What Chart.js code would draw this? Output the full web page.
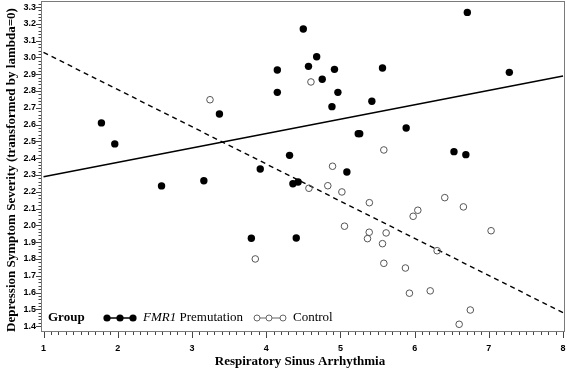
<!DOCTYPE html>
<html><head><meta charset="utf-8">
<script src="https://cdn.jsdelivr.net/npm/chart.js@4/dist/chart.umd.min.js"></script>
<style>html,body{margin:0;padding:0;background:#fff}#wrap{width:567px;height:371px}</style>
</head><body><div id="wrap"><canvas id="c" width="567" height="371"></canvas></div>
<script>
const premX = [1.78,1.96,2.59,3.16,3.37,3.80,3.92,4.15,4.15,4.315,4.36,4.43,4.405,4.50,4.57,4.68,4.755,4.886,4.92,4.966,5.087,5.24,5.26,5.424,5.567,5.886,6.53,6.69,6.71,7.276];
const premY = [2.61,2.485,2.235,2.266,2.663,1.923,2.336,2.925,2.792,2.417,2.248,2.258,1.925,3.169,2.947,3.004,2.870,2.707,2.929,2.792,2.318,2.546,2.546,2.739,2.937,2.580,2.439,2.421,3.268,2.911];
const ctrlX = [3.243,3.853,4.576,4.603,4.83,4.894,5.02,5.055,5.365,5.388,5.39,5.567,5.585,5.585,5.616,5.876,5.93,5.98,6.043,6.21,6.303,6.406,6.6,6.657,6.75,7.03];
const ctrlY = [2.748,1.80,2.221,2.854,2.236,2.352,2.199,1.995,1.921,1.959,2.135,1.891,2.449,1.774,1.955,1.746,1.596,2.054,2.09,1.61,1.849,2.165,1.411,2.11,1.496,1.968];
const premFitX = [1, 8], premFitY = [2.29, 2.89];
const ctrlFitX = [1, 8], ctrlFitY = [3.03, 1.48];
const xTicks = [1,2,3,4,5,6,7,8];
const yTicks = [1.4,1.5,1.6,1.7,1.8,1.9,2.0,2.1,2.2,2.3,2.4,2.5,2.6,2.7,2.8,2.9,3.0,3.1,3.2,3.3];
const xTitle = 'Respiratory Sinus Arrhythmia';
const yTitle = 'Depression Symptom Severity (transformed by lambda=0)';
const legendTitle = 'Group';
const groupNames = ['FMR1', 'Premutation', 'Control'];

const zip = (xs, ys) => xs.map((x, i) => ({x, y: ys[i]}));

const decor = {
  id: 'decor',
  beforeDatasetsDraw(chart) {
    const {ctx, chartArea: a, scales: {x, y}} = chart;
    ctx.save();
    ctx.strokeStyle = '#7a7a7a';
    ctx.lineWidth = 1;
    ctx.strokeRect(a.left + 0.5, a.top + 0.5, a.right - a.left - 1, a.bottom - a.top - 1);
    ctx.strokeStyle = '#444';
    for (let i = 10; i <= 80; i++) {
      const v = i / 10;
      const px = Math.round(x.getPixelForValue(v)) + 0.5;
      const len = (i % 10 === 0) ? 6 : 3;
      ctx.beginPath(); ctx.moveTo(px, a.bottom); ctx.lineTo(px, a.bottom + len); ctx.stroke();
    }
    for (let i = 70; i <= 166; i++) {
      const v = i / 50;
      const py = Math.round(y.getPixelForValue(v)) + 0.5;
      const len = (i % 5 === 0) ? 5 : 2.5;
      ctx.beginPath(); ctx.moveTo(a.left, py); ctx.lineTo(a.left - len, py); ctx.stroke();
    }
    ctx.restore();
  },
  afterDraw(chart) {
    const {ctx} = chart;
    ctx.save();
    ctx.fillStyle = '#000';
    ctx.font = 'bold 13px "Liberation Serif"';
    ctx.textAlign = 'center'; ctx.textBaseline = 'middle';
    ctx.fillText(xTitle, 300, 362);
    ctx.save();
    ctx.translate(12, 170); ctx.rotate(-Math.PI / 2);
    ctx.font = 'bold 13px "Liberation Serif"';
    ctx.fillText(yTitle, 0, 0, 332);
    ctx.restore();
    const ly = 318;
    ctx.textAlign = 'left';
    ctx.font = 'bold 13px "Liberation Serif"';
    ctx.fillText(legendTitle, 48, ly);
    ctx.strokeStyle = '#000'; ctx.lineWidth = 1.5;
    ctx.beginPath(); ctx.moveTo(107, ly); ctx.lineTo(133, ly); ctx.stroke();
    [107, 120, 133].forEach(cx => { ctx.beginPath(); ctx.arc(cx, ly, 3.6, 0, Math.PI * 2); ctx.fill(); });
    ctx.font = 'italic 13px "Liberation Serif"';
    ctx.fillText(groupNames[0], 143, ly);
    const w = ctx.measureText(groupNames[0] + ' ').width;
    ctx.font = '13px "Liberation Serif"';
    ctx.fillText(groupNames[1], 143 + w, ly);
    ctx.strokeStyle = '#666'; ctx.lineWidth = 1;
    ctx.beginPath(); ctx.moveTo(257, ly); ctx.lineTo(283, ly); ctx.stroke();
    [257, 269, 283].forEach(cx => { ctx.beginPath(); ctx.arc(cx, ly, 3, 0, Math.PI * 2); ctx.fillStyle = '#fff'; ctx.fill(); ctx.stroke(); });
    ctx.fillStyle = '#000';
    ctx.fillText(groupNames[2], 293, ly);
    ctx.restore();
  }
};

new Chart(document.getElementById('c'), {
  type: 'scatter',
  data: {
    datasets: [
      { label: 'prem', data: zip(premX, premY), pointRadius: 3.7, pointBackgroundColor: '#000', pointBorderColor: '#000', pointBorderWidth: 0, order: 1 },
      { label: 'ctrl', data: zip(ctrlX, ctrlY), pointRadius: 3.3, pointBackgroundColor: 'rgba(255,255,255,0)', pointBorderColor: '#555', pointBorderWidth: 1, order: 1 },
      { type: 'line', label: 'premFit', data: zip(premFitX, premFitY), borderColor: '#000', borderWidth: 1.5, pointRadius: 0, fill: false, order: 2 },
      { type: 'line', label: 'ctrlFit', data: zip(ctrlFitX, ctrlFitY), borderColor: '#000', borderWidth: 1.4, borderDash: [5, 4], pointRadius: 0, fill: false, order: 2 }
    ]
  },
  options: {
    responsive: false,
    animation: false,
    devicePixelRatio: 1,
    layout: { autoPadding: false, padding: { top: 1, right: 2, left: 0, bottom: 0 } },
    plugins: { legend: { display: false }, tooltip: { enabled: false } },
    scales: {
      x: {
        type: 'linear', min: 0.966, max: 8.026,
        afterBuildTicks: s => { s.ticks = xTicks.map(v => ({value: v})); },
        afterFit: s => { s.height = 39; s.paddingLeft = 0; s.paddingRight = 0; },
        grid: { display: false, drawTicks: false },
        border: { display: false },
        ticks: { padding: 11, color: '#000', font: { family: 'Liberation Sans', weight: 'bold', size: 9 }, callback: v => String(v) }
      },
      y: {
        type: 'linear', min: 1.365, max: 3.336,
        afterBuildTicks: s => { s.ticks = yTicks.map(v => ({value: v})); },
        afterFit: s => { s.width = 41; s.paddingTop = 0; s.paddingBottom = 0; },
        grid: { display: false, drawTicks: false },
        border: { display: false },
        ticks: { padding: 5, color: '#000', font: { family: 'Liberation Sans', weight: 'bold', size: 9 }, callback: v => Number(v).toFixed(1) }
      }
    }
  },
  plugins: [decor]
});
</script></body></html>
